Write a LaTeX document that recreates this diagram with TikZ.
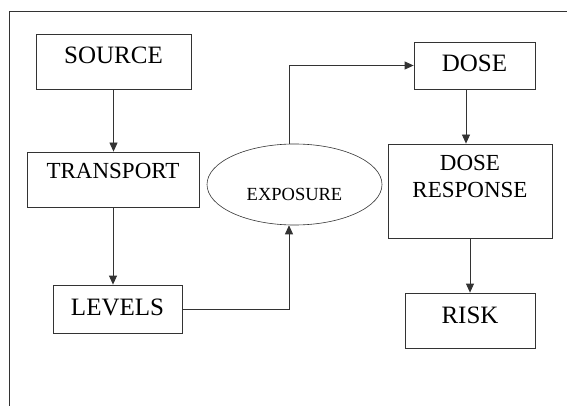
\documentclass[tikz,border=0pt]{standalone}
\usepackage{fontspec}
\setmainfont{Liberation Serif}
\usepackage{tikz}
\usetikzlibrary{arrows.meta}
\usetikzlibrary{shapes}
\usetikzlibrary{calc}
\tikzstyle{tran}  = [
    draw=black!80,
    line width=0.8pt,
    -{Triangle[length=9pt,width=8pt]}
]
\tikzstyle{blk}  = [
    shape=rectangle,
    draw=black!80,
    line width=0.8pt,
    inner sep=0pt,
    text height=16.5pt
]
\tikzstyle{oval}  = [
    shape=ellipse,
    draw=black!80,
    line width=0.6pt,
    inner sep=0pt
]
\newcommand{\bigtxt}{\fontsize{25}{28}\selectfont}
\newcommand{\midtxt}{\fontsize{23}{27}\selectfont}
\newcommand{\smltxt}{\fontsize{18.5}{20}\selectfont}

\begin{document}
\begin{tikzpicture}[x = 1pt, y=-1pt]
\useasboundingbox (0,0) rectangle (567,406);

\draw[black!80, line width=0.8pt] (567,11) -- (9,11) -- (9,406);

\node[blk, font=\bigtxt, minimum width=155pt, minimum height=55pt, text depth=12pt] (src)  at (113.5,61.5)  {SOURCE};
\node[blk, font=\midtxt, minimum width=172pt, minimum height=55pt, text height=15.2pt, text depth=17pt] (trn)  at (113,179.5)  {TRANSPORT};
\node[blk, font=\bigtxt, minimum width=129pt, minimum height=48pt, text depth=4pt] (lvl)  at (117.5,309)  {LEVELS};
\node[oval, font=\smltxt, minimum width=175pt, minimum height=81pt, text height=32pt, text depth=0pt] (exp)  at (294.5,184.5)  {EXPOSURE};
\node[blk, font=\bigtxt, minimum width=121pt, minimum height=47pt, text depth=5pt] (dose)  at (474.5,65.5)  {DOSE};
\node[blk, font=\midtxt, minimum width=164pt, minimum height=94pt, text height=42pt, text depth=29pt, align=center] (dr)  at (470,191)  {DOSE\\RESPONSE};
\node[blk, font=\bigtxt, minimum width=130pt, minimum height=55pt, text depth=11pt] (risk)  at (470,320.5)  {RISK};

\draw[tran] (src.south)  --  (src.south |- trn.north);
\draw[tran] (trn.south)  --  (trn.south |- lvl.north);
\draw[tran] (lvl.east)   -|  ([xshift=-5.5pt]exp.south);
\draw[tran] ([xshift=-5.5pt]exp.north)  |-  (dose.west);
\draw[tran] ([xshift=-4pt]dr.north |- dose.south)  --  ([xshift=-4pt]dr.north);
\draw[tran] (dr.south)   --  (risk.north);

\end{tikzpicture}
\end{document}
